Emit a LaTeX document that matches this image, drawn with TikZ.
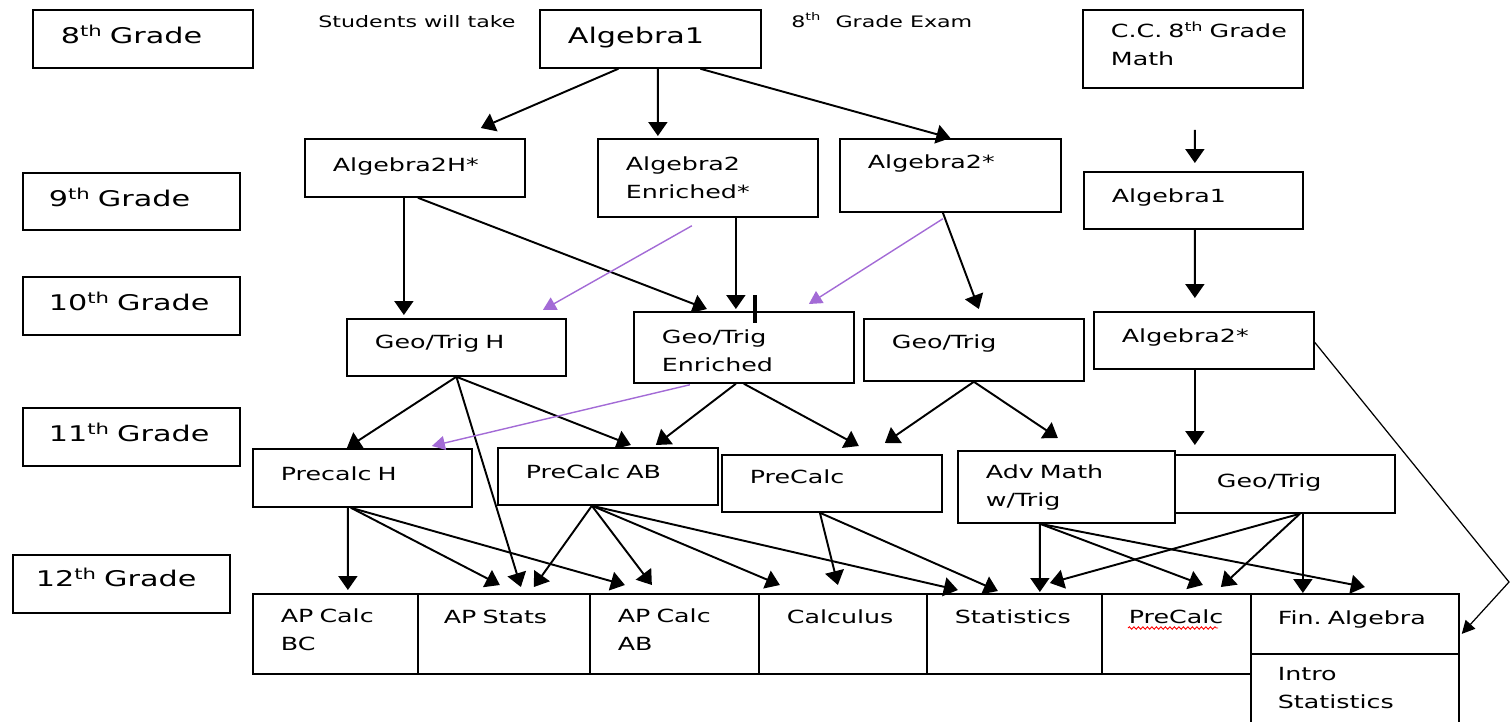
\documentclass[tikz,border=0pt]{standalone}
\usepackage{fontspec}
\setmainfont{DejaVu Sans}[FakeStretch=1.4]
\usetikzlibrary{arrows.meta,decorations.pathmorphing}
\newdimen\pix
\pix=0.02cm
\definecolor{lilac}{HTML}{A36BD6}
\tikzset{
  course/.style={draw, line width=1pt, rectangle, anchor=north west, inner xsep=28\pix, inner ysep=0pt, align=left, font=\fontsize{10.3}{15.5}\selectfont},
  grade/.style={course, font=\fontsize{12.3}{15}\selectfont, text height=34\pix, text depth=24\pix},
  arr/.style={line width=1.1pt, -{Triangle[length=0.28cm,width=0.38cm]}},
  purarr/.style={line width=0.8pt, draw=lilac, -{Triangle[length=0.26cm,width=0.28cm,fill=lilac]}},
  thinarr/.style={line width=0.7pt, -{Triangle[length=0.26cm,width=0.26cm]}}
}
\begin{document}
\begin{tikzpicture}[x=0.02cm,y=-0.02cm]
\useasboundingbox (0,0) rectangle (1512,721);
\clip (0,0) rectangle (1512,721);
% grade column
\node[grade, text width=164\pix] (g8) at (32,9) {8\textsuperscript{th}~Grade};
\node[grade, text width=165\pix, inner xsep=26\pix, text depth=23\pix] (g9) at (22,172) {9\textsuperscript{th}~Grade};
\node[grade, text width=165\pix, inner xsep=26\pix] (g10) at (22,276) {10\textsuperscript{th}~Grade};
\node[grade, text width=165\pix, inner xsep=26\pix] (g11) at (22,407) {11\textsuperscript{th}~Grade};
\node[grade, text width=171\pix, inner xsep=23\pix, text height=32\pix, text depth=26\pix] (g12) at (12,554) {12\textsuperscript{th}~Grade};
% 8th grade
\node[anchor=base west, inner sep=0pt, font=\fontsize{9}{11}\selectfont] (take) at (318,27) {Students will take};
\node[grade, text width=165\pix] (alg1) at (539,9) {Algebra1};
\node[anchor=base west, inner sep=0pt, font=\fontsize{9}{11}\selectfont] (exam) at (791,27) {8\textsuperscript{th}\ \ Grade Exam};
\node[course, text width=164\pix, text height=28\pix, text depth=50\pix] (cc) at (1082,9) {C.C.~8\textsuperscript{th}~Grade\\Math};
% 9th grade
\node[course, text width=164\pix, text height=33\pix, text depth=25\pix] (a2h) at (304,138) {Algebra2H*};
\node[course, text width=164\pix, text height=32\pix, text depth=46\pix] (a2e) at (597,138) {Algebra2\\Enriched*};
\node[course, text width=165\pix, text height=30\pix, text depth=43\pix] (a2s) at (839,138) {Algebra2*};
\node[course, text width=163\pix, text height=31\pix, text depth=26\pix] (a1r) at (1083,171) {Algebra1};
% 10th grade
\node[course, text width=163\pix, text height=30\pix, text depth=27\pix] (gth) at (346,318) {Geo/Trig~H};
\node[course, text width=164\pix, text height=32\pix, text depth=39\pix] (gte) at (633,311) {Geo/Trig\\Enriched};
\node[course, text width=164\pix, text height=30\pix, text depth=32\pix] (gt) at (863,318) {Geo/Trig};
\node[course, text width=164\pix, text height=31\pix, text depth=26\pix] (a2r) at (1093,311) {Algebra2*};
% 11th grade
\node[course, text width=163\pix, text height=32\pix, text depth=26\pix] (pch) at (252,448) {Precalc~H};
\node[course, text width=164\pix, text height=31\pix, text depth=26\pix] (pcab) at (497,447) {PreCalc~AB};
\node[course, text width=164\pix, text height=29\pix, text depth=28\pix] (pc) at (721,454) {PreCalc};
\node[course, text width=161\pix, text height=28\pix, text depth=44\pix] (adv) at (957,450) {Adv~Math\\w/Trig};
\node[course, inner xsep=42\pix, text width=136\pix, text height=33\pix, text depth=25\pix] (gtr) at (1174,454) {Geo/Trig};
% 12th grade
\node[course, text width=109\pix, text height=29\pix, text depth=51\pix] (apbc) at (252,593) {AP~Calc\\BC};
\node[course, inner xsep=26\pix, text width=120\pix, text height=30\pix, text depth=50\pix] (aps) at (417,593) {AP~Stats};
\node[course, text width=113\pix, text height=29\pix, text depth=51\pix] (apab) at (589,593) {AP~Calc\\AB};
\node[course, text width=112\pix, text height=30\pix, text depth=50\pix] (calc) at (758,593) {Calculus};
\node[course, text width=119\pix, text height=30\pix, text depth=50\pix] (stat) at (926,593) {Statistics};
\node[course, inner xsep=27\pix, text width=95\pix, text height=30\pix, text depth=50\pix] (pc12) at (1101,593) {PreCalc};
\node[course, inner xsep=27\pix, text width=154\pix, text height=31\pix, text depth=29\pix] (fin) at (1250,593) {Fin.~Algebra};
\node[course, inner xsep=27\pix, text width=154\pix, text height=27\pix, text depth=53\pix] (intro) at (1250,653) {Intro\\Statistics};
\draw[red, line width=0.5pt, decorate, decoration={snake, amplitude=0.025cm, segment length=0.09cm}] ([xshift=27\pix,yshift=-35\pix]pc12.north west) -- ([xshift=117\pix,yshift=-35\pix]pc12.north west);
% 8th to 9th
\draw[arr] ([xshift=-32\pix]alg1.south) -- ([xshift=66\pix,yshift=10\pix]a2h.north);
\draw[arr] ([xshift=7.5\pix]alg1.south) -- ([xshift=-50\pix,yshift=2\pix]a2e.north);
\draw[arr] ([xshift=50\pix]alg1.south) -- (a2s.north);
\draw[arr] ([xshift=2\pix,yshift=-41\pix]cc.south) -- ([xshift=1.5\pix,yshift=8\pix]a1r.north);
% 9th to 10th
\draw[arr] ([xshift=-11\pix]a2h.south) -- ([xshift=-52.5\pix,yshift=3\pix]gth.north);
\draw[arr] ([xshift=3\pix]a2h.south) -- ([xshift=-37\pix,yshift=2\pix]gte.north);
\draw[arr] ([xshift=28\pix]a2e.south) -- ([xshift=-8\pix,yshift=2\pix]gte.north);
\draw[line width=2.2pt] ([xshift=11\pix,yshift=16\pix]gte.north) -- ([xshift=11\pix,yshift=-12\pix]gte.north);
\draw[purarr] ([xshift=-16\pix,yshift=-8\pix]a2e.south) -- ([xshift=86.5\pix,yshift=8\pix]gth.north);
\draw[purarr] ([xshift=-7.5\pix,yshift=-6\pix]a2s.south) -- ([xshift=65\pix,yshift=7\pix]gte.north);
\draw[arr] ([xshift=-7.5\pix]a2s.south) -- ([xshift=5\pix,yshift=9\pix]gt.north);
\draw[arr] ([xshift=1.5\pix]a1r.south) -- ([xshift=-9\pix,yshift=13\pix]a2r.north);
% 10th to 11th
\draw[arr] (gth.south) -- ([xshift=-15.5\pix]pch.north);
\draw[arr] (gth.south) -- ([xshift=17\pix,yshift=6\pix]aps.north);
\draw[arr] (gth.south) -- ([xshift=23\pix,yshift=2\pix]pcab.north);
\draw[arr] ([xshift=-8\pix]gte.south) -- ([xshift=48\pix,yshift=2\pix]pcab.north);
\draw[arr] (gte.south) -- ([xshift=27\pix,yshift=8\pix]pc.north);
\draw[purarr] ([xshift=-54\pix,yshift=-1\pix]gte.south) -- ([xshift=69.5\pix,yshift=2\pix]pch.north);
\draw[arr] (gt.south) -- ([xshift=53\pix,yshift=11\pix]pc.north);
\draw[arr] (gt.south) -- ([xshift=-8.5\pix,yshift=12\pix]adv.north);
\draw[arr] ([xshift=-9\pix]a2r.south) -- ([xshift=-90\pix,yshift=9\pix]gtr.north);
\coordinate (bend) at (1509,582);
\draw[thinarr] ([yshift=-2\pix]a2r.east) -- (bend) -- ([xshift=2\pix,yshift=-10\pix]fin.east);
% 11th to 12th
\draw[arr] ([xshift=-14.5\pix]pch.south) -- ([xshift=12.5\pix,yshift=3\pix]apbc.north);
\draw[arr] ([xshift=-11.5\pix]pch.south) -- ([xshift=-4\pix,yshift=8\pix]aps.north);
\draw[arr] ([xshift=-11.5\pix]pch.south) -- ([xshift=-49.5\pix,yshift=8\pix]apab.north);
\draw[arr] ([xshift=-16\pix]pcab.south) -- ([xshift=30\pix,yshift=6\pix]aps.north);
\draw[arr] ([xshift=-16\pix]pcab.south) -- ([xshift=-22.5\pix,yshift=8\pix]apab.north);
\draw[arr] ([xshift=-16\pix]pcab.south) -- ([xshift=-63\pix,yshift=8\pix]calc.north);
\draw[arr] ([xshift=-16\pix]pcab.south) -- ([xshift=-56.5\pix,yshift=3\pix]stat.north);
\draw[arr] ([xshift=-12\pix]pc.south) -- ([xshift=-5\pix,yshift=8\pix]calc.north);
\draw[arr] ([xshift=-12\pix]pc.south) -- ([xshift=-16.5\pix,yshift=2\pix]stat.north);
\draw[arr] ([xshift=-26.5\pix]adv.south) -- ([xshift=25.5\pix,yshift=1\pix]stat.north);
\draw[arr] ([xshift=-26.5\pix]adv.south) -- ([xshift=26.5\pix,yshift=8\pix]pc12.north);
\draw[arr] ([xshift=-26.5\pix]adv.south) -- ([xshift=10\pix,yshift=6\pix]fin.north);
\draw[arr] ([xshift=15\pix]gtr.south) -- ([xshift=35.5\pix,yshift=10\pix]stat.north);
\draw[arr] ([xshift=15\pix]gtr.south) -- ([xshift=44.5\pix,yshift=6\pix]pc12.north);
\draw[arr] ([xshift=18\pix]gtr.south) -- ([xshift=-52\pix]fin.north);
\end{tikzpicture}
\end{document}
